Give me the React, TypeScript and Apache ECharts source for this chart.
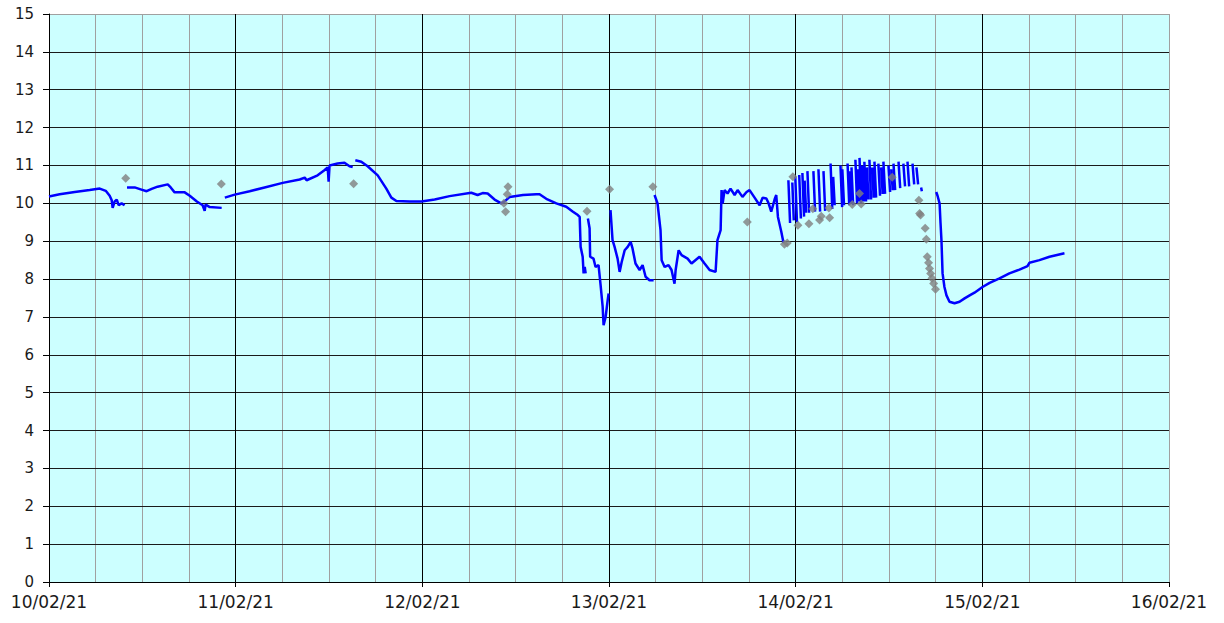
import React, { useEffect, useRef } from "react";
import * as echarts from "echarts";

// x values: days elapsed since 10/02/21 00:00
const dayLabels = ["10/02/21", "11/02/21", "12/02/21", "13/02/21", "14/02/21", "15/02/21", "16/02/21"];
const yTicks = [0, 15];

// Blue continuous record (null = gap)
const lineDays: (number | null)[] = [
  0.000, 0.057, 0.138, 0.218, 0.272, 0.304, 0.325, 0.336, 0.341, 0.352, 0.363, 0.373, 0.389, 0.405, null,
  0.418, 0.459, 0.491, 0.523, 0.550, 0.582, 0.636, 0.652, 0.673, 0.727, 0.754, 0.792, 0.823, 0.834, 0.839, 0.861, 0.925, null,
  0.942, 0.995, 1.075, 1.155, 1.252, 1.343, 1.370, 1.380, 1.439, 1.477, 1.493, 1.498, 1.503, 1.546, 1.583, 1.610, 1.627, null,
  1.641, 1.673, 1.707, 1.761, 1.807, 1.834, 1.861, 1.932, 1.995, 2.066, 2.146, 2.262, 2.296, 2.323, 2.350, 2.387, 2.423, 2.441,
  2.468, 2.539, 2.611, 2.628, 2.664, 2.718, 2.771, 2.807, 2.833, 2.843, 2.848, 2.859, 2.864, 2.870, 2.875, null,
  2.887, 2.896, 2.899, 2.917, 2.928, 2.944, 2.955, 2.966, 2.971, 2.982, 2.993, 2.998, null,
  3.008, 3.019, 3.030, 3.046, 3.057, 3.068, 3.084, 3.100, 3.116, 3.126, 3.142, 3.164, 3.180, 3.196, 3.217, 3.239, null,
  3.244, 3.260, 3.276, 3.282, 3.298, 3.319, 3.335, 3.351, 3.357, 3.373, 3.389, 3.421, 3.442, 3.485, 3.512, 3.539, 3.571,
  3.581, 3.598, 3.603, 3.609, 3.619, 3.635, 3.651, 3.673, 3.689, 3.715, 3.737, 3.753, 3.780, 3.807, 3.823, 3.843, 3.855,
  3.869, 3.887, 3.896, 3.905, 3.923, 3.935, null,
  3.961, 3.970, null, 3.982, 3.990, null, 3.998, 4.007, null, 4.019, 4.028, null, 4.036, 4.045, null, 4.048, 4.056, null,
  4.063, 4.072, null, 4.095, 4.104, null, 4.122, 4.131, null, 4.149, 4.158, null, 4.187, 4.196, null, 4.201, 4.209, null,
  4.240, 4.249, null, 4.250, 4.259, null, 4.278, 4.287, null, 4.290, 4.298, null, 4.299, 4.308, null, 4.320, 4.329, null,
  4.331, 4.339, null, 4.342, 4.351, null, 4.356, 4.364, null, 4.368, 4.377, null, 4.382, 4.390, null, 4.395, 4.404, null,
  4.410, 4.418, null, 4.422, 4.431, null, 4.443, 4.452, null, 4.458, 4.466, null, 4.470, 4.479, null, 4.497, 4.506, null,
  4.512, 4.520, null, 4.524, 4.533, null, 4.551, 4.560, null, 4.577, 4.586, null, 4.599, 4.608, null, 4.626, 4.635, null,
  4.647, 4.656, null,
  4.672, 4.676, null,
  4.753, 4.760, 4.771, 4.776, 4.781, 4.787, 4.797, 4.808, 4.824, 4.851, 4.878, 4.905, 4.932, 4.958, 5.001, 5.039,
  5.092, 5.145, 5.199, 5.242, 5.252, 5.306, 5.360, 5.440,
];
const lineValues: (number | null)[] = [
  10.18, 10.24, 10.30, 10.35, 10.39, 10.33, 10.20, 10.08, 9.88, 10.05, 10.10, 9.95, 10.00, 9.95, null,
  10.42, 10.42, 10.37, 10.32, 10.38, 10.44, 10.50, 10.42, 10.29, 10.29, 10.20, 10.05, 9.95, 9.80, 9.97, 9.90, 9.88, null,
  10.15, 10.23, 10.32, 10.42, 10.54, 10.63, 10.68, 10.61, 10.74, 10.88, 10.95, 10.57, 11.00, 11.05, 11.07, 10.98, 10.96, null,
  11.14, 11.10, 10.98, 10.74, 10.39, 10.15, 10.06, 10.05, 10.05, 10.10, 10.19, 10.28, 10.22, 10.27, 10.26, 10.10, 10.00, 10.05,
  10.17, 10.22, 10.24, 10.24, 10.12, 10.00, 9.91, 9.78, 9.69, 9.64, 8.85, 8.59, 8.15, 8.32, 8.15, null,
  9.60, 9.34, 8.59, 8.54, 8.32, 8.37, 7.84, 7.27, 6.78, 7.00, 7.44, 7.62, null,
  9.82, 9.03, 8.85, 8.54, 8.19, 8.45, 8.76, 8.85, 8.98, 8.81, 8.41, 8.24, 8.37, 8.06, 7.97, 7.97, null,
  10.22, 10.00, 9.29, 8.50, 8.32, 8.37, 8.24, 7.88, 8.24, 8.76, 8.63, 8.54, 8.41, 8.59, 8.41, 8.24, 8.19,
  9.03, 9.29, 10.35, 10.00, 10.35, 10.26, 10.39, 10.22, 10.35, 10.17, 10.30, 10.35, 10.15, 9.95, 10.15, 10.13, 10.00,
  9.78, 10.10, 10.22, 9.64, 9.25, 8.95, null,
  10.61, 9.48, null, 10.55, 9.55, null, 10.70, 9.50, null, 10.75, 9.60, null, 10.80, 9.65, null, 10.60, 9.75, null,
  10.85, 9.75, null, 10.85, 9.78, null, 10.90, 9.78, null, 10.85, 9.80, null, 11.05, 9.85, null, 10.70, 9.95, null,
  11.00, 9.90, null, 10.90, 9.95, null, 11.05, 9.95, null, 10.85, 10.00, null, 10.95, 9.95, null, 11.15, 10.00, null,
  10.90, 10.05, null, 11.20, 10.00, null, 11.00, 10.05, null, 11.10, 10.05, null, 10.95, 10.10, null, 11.15, 10.10, null,
  10.95, 10.15, null, 11.10, 10.15, null, 11.05, 10.20, null, 10.95, 10.25, null, 11.10, 10.25, null, 11.00, 10.30, null,
  10.90, 10.35, null, 11.05, 10.35, null, 11.10, 10.40, null, 11.05, 10.45, null, 11.10, 10.45, null, 11.05, 10.50, null,
  10.95, 10.50, null,
  10.42, 10.32, null,
  10.30, 10.20, 10.00, 9.48, 9.03, 8.15, 7.79, 7.57, 7.40, 7.36, 7.40, 7.49, 7.57, 7.64, 7.79, 7.90,
  8.02, 8.15, 8.25, 8.34, 8.43, 8.50, 8.59, 8.68,
];

// Grey spot measurements
const spotDays = [
  0.411, 0.923, 1.632, 2.459, 2.455, 2.437, 2.446, 2.882, 3.003, 3.235, 3.741, 3.940, 3.955, 3.985,
  4.012, 4.071, 4.092, 4.128, 4.137, 4.178, 4.182, 4.303, 4.342, 4.351, 4.517, 4.660, 4.664, 4.669,
  4.694, 4.700, 4.705, 4.712, 4.717, 4.723, 4.730, 4.739, 4.749,
];
const spotValues = [
  10.66, 10.51, 10.52, 10.44, 10.24, 10.00, 9.78, 9.79, 10.37, 10.44, 9.51, 8.92, 8.95, 10.70,
  9.42, 9.46, 9.86, 9.56, 9.66, 9.88, 9.62, 9.97, 10.26, 9.98, 10.69, 10.08, 9.73, 9.69,
  9.34, 9.05, 8.59, 8.43, 8.28, 8.15, 8.02, 7.88, 7.73,
];

export default function App() {
  const ref = useRef<HTMLDivElement>(null);
  useEffect(() => {
    if (!ref.current) return;
    const chart = echarts.init(ref.current, null, { renderer: "svg" });
    const lineData = lineDays.map((d, i) => (d === null ? [null, null] : [d, lineValues[i]]));
    const spotData = spotDays.map((d, i) => [d, spotValues[i]]);
    chart.setOption({
      animation: false,
      backgroundColor: "#ffffff",
      grid: {
        left: 49,
        top: 14,
        right: 55,
        bottom: 41,
        show: true,
        backgroundColor: "#CCFFFF",
        borderWidth: 0,
      },
      xAxis: [
        {
          type: "value",
          min: 0,
          max: 6,
          interval: 1,
          position: "bottom",
          z: 1,
          axisLine: { show: true, onZero: false, lineStyle: { color: "#000", width: 1 } },
          axisTick: { show: true, length: 5, lineStyle: { color: "#000" } },
          axisLabel: {
            show: true,
            margin: 11,
            fontFamily: "DejaVu Sans, Verdana, sans-serif",
            fontSize: 17,
            color: "#1a1a1a",
            formatter: (v: number) => dayLabels[Math.round(v)] ?? "",
          },
          splitLine: { show: true, showMaxLine: false, lineStyle: { color: "#000", width: 1 } },
        },
        {
          type: "value",
          min: 0,
          max: 6,
          interval: 0.25,
          position: "top",
          z: 0,
          axisLine: { show: true, onZero: false, lineStyle: { color: "#A0A0A0", width: 1 } },
          axisTick: { show: false },
          axisLabel: { show: false },
          splitLine: { show: true, lineStyle: { color: "#A0A0A0", width: 1 } },
        },
      ],
      yAxis: {
        type: "value",
        min: yTicks[0],
        max: yTicks[1],
        interval: 1,
        z: 1,
        axisLine: { show: true, lineStyle: { color: "#000", width: 1 } },
        axisTick: { show: true, length: 6, lineStyle: { color: "#000" } },
        axisLabel: {
          margin: 15,
          fontFamily: "DejaVu Sans, Verdana, sans-serif",
          fontSize: 15,
          color: "#1a1a1a",
        },
        splitLine: { show: true, showMaxLine: false, lineStyle: { color: "#1a1a1a", width: 1 } },
      },
      series: [
        {
          type: "line",
          xAxisIndex: 0,
          data: lineData,
          showSymbol: false,
          connectNulls: false,
          lineStyle: { color: "#0000FF", width: 2.5 },
          itemStyle: { color: "#0000FF" },
          z: 3,
        },
        {
          type: "scatter",
          xAxisIndex: 0,
          data: spotData,
          symbol: "diamond",
          symbolSize: 9,
          itemStyle: { color: "#808080" },
          z: 4,
        },
      ],
    });
    return () => chart.dispose();
  }, []);
  return (
    <div
      ref={ref}
      style={{ position: "fixed", left: 0, top: 0, width: 1224, height: 623 }}
    />
  );
}
